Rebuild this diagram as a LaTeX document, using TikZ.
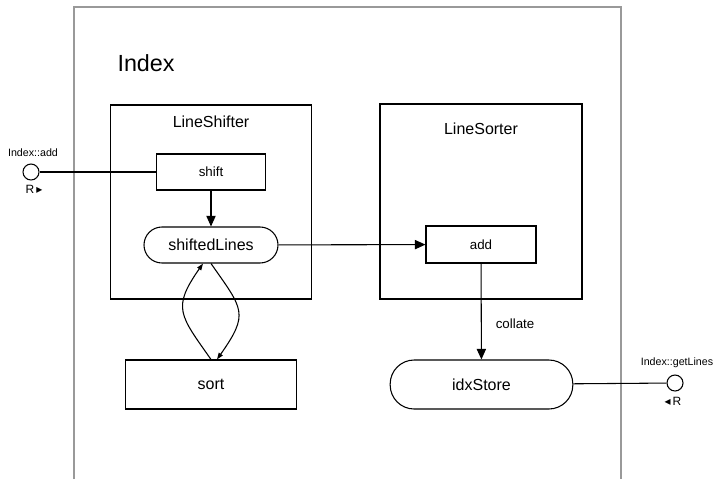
\documentclass[tikz,border=0pt]{standalone}
\usepackage{fontspec}
\setmainfont{Liberation Sans}
\newfontfamily\symfont{DejaVu Sans}
\usetikzlibrary{arrows.meta}

\begin{document}
\begin{tikzpicture}
	[x=0.75pt,y=-0.75pt,line width=0.8pt,
	box/.style={draw,rectangle,inner sep=0pt,font=\fontsize{12}{14}\selectfont},
	smallbox/.style={box,font=\fontsize{10}{12}\selectfont},
	pill/.style={box,rounded corners=#1},
	port/.style={circle,draw,minimum size=12pt,inner sep=0pt},
	tag/.style={inner sep=0pt,font=\fontsize{8}{10}\selectfont},
	rtag/.style={inner sep=0pt,font=\fontsize{9}{11}\selectfont},
	>={Triangle[length=8pt,width=7pt]}]
	\useasboundingbox (0,0) rectangle (714,479);
	% outer Index frame, open at the bottom
	\draw[black!40] (74,479) -- (74,7) -- (621,7) -- (621,479);
	\node[inner sep=0pt,anchor=west,font=\fontsize{17.5}{20}\selectfont,name=title]at(117,63){Index};
	% components
	\node[box,name=shifter,minimum width=150.75pt,minimum height=145.5pt]at(211,202){};
	\node[box,draw=none,name=shifterName]at(211,122){LineShifter};
	\node[box,name=sorter,minimum width=151.5pt,minimum height=146.25pt]at(481,201.5){};
	\node[box,draw=none,name=sorterName]at(481,129){LineSorter};
	% inner nodes
	\node[smallbox,name=shift,minimum width=81.75pt,minimum height=27pt]at(211,172){shift};
	\node[pill=13.5pt,name=shiftedLines,minimum width=100.5pt,minimum height=27pt]at(211,245){shiftedLines};
	\node[smallbox,name=add,minimum width=82.5pt,minimum height=27.75pt]at(481,244.5){add};
	\node[box,name=sort,minimum width=128.25pt,minimum height=36.75pt]at(211,384.5){sort};
	\node[pill=18pt,name=idxStore,minimum width=137pt,minimum height=36.75pt]at(481.5,384.5){idxStore};
	% ports
	\node[port,name=addPort]at(31,172){};
	\node[tag,name=addPortName]at(33,153){Index::add};
	\node[rtag,name=addPortR]at(34,189){R\,{\symfont ▸}};
	\node[port,name=getPort]at(675,383){};
	\node[tag,name=getPortName]at(677,363){Index::getLines};
	\node[rtag,name=getPortR]at(673,401){{\symfont ◂}\,R};
	% connectors
	\draw (addPort) -- (shift);
	\draw[->] (shift) -- (shiftedLines);
	\draw[->] (shiftedLines) -- (add);
	\draw[->] (add) -- node[pos=0.63,right=10.5pt,inner sep=0pt,font=\fontsize{10}{12}\selectfont,name=collate]{collate} (idxStore);
	\draw (idxStore) -- (getPort);
	\draw[-{Triangle[length=5pt,width=3.5pt]}] (sort.north) to[out=125,in=-125,looseness=1.45] ([xshift=-6pt]shiftedLines.south);
	\draw[-{Triangle[length=5pt,width=3.5pt]}] (shiftedLines.south) to[out=-55,in=55,looseness=1.5] ([xshift=4.5pt]sort.north);
\end{tikzpicture}
\end{document}
